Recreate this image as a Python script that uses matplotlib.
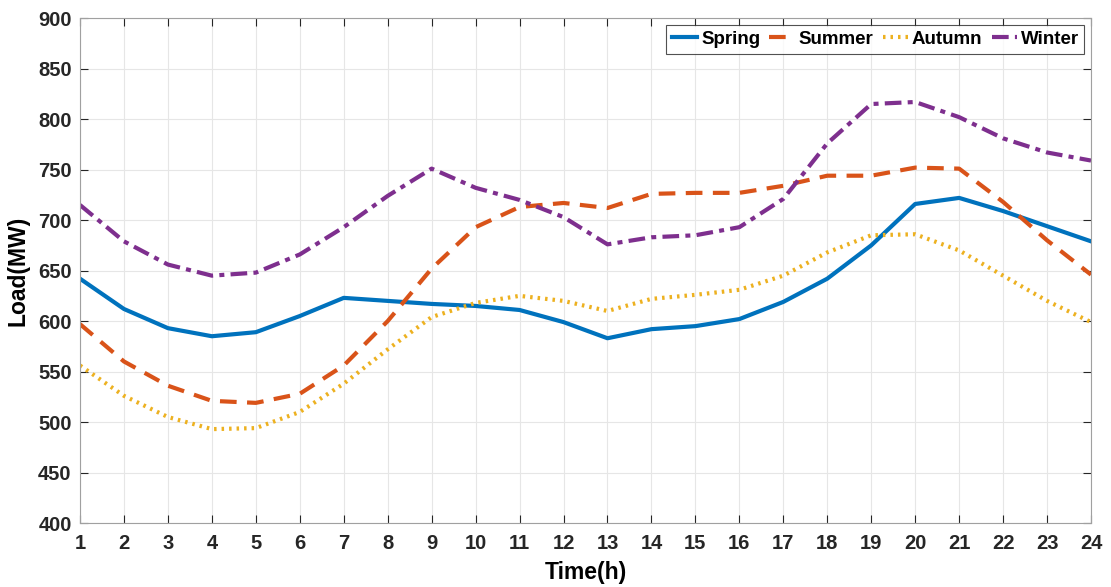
import numpy as np
import matplotlib.pyplot as plt

plt.rcParams['font.family'] = ['Liberation Sans', 'DejaVu Sans']
plt.rcParams['font.weight'] = 'bold'

hours = list(range(1, 25))
spring = [642, 612, 593, 585, 589, 605, 623, 620, 617, 615, 611, 599,
          583, 592, 595, 602, 619, 642, 675, 716, 722, 709, 694, 679]
summer = [597, 560, 536, 521, 519, 528, 556, 600, 652, 693, 713, 717,
          712, 726, 727, 727, 734, 744, 744, 752, 751, 718, 680, 646]
autumn = [556, 526, 505, 493, 494, 510, 538, 572, 604, 618, 625, 620,
          610, 622, 626, 631, 645, 668, 685, 686, 670, 645, 620, 599]
winter = [715, 679, 656, 645, 648, 666, 693, 724, 751, 732, 720, 703,
          676, 683, 685, 693, 721, 776, 815, 817, 802, 781, 767, 759]
y_ticks = list(range(400, 901, 50))

fig = plt.figure(figsize=(11.11, 5.87), dpi=100)
ax = fig.add_axes([0.072, 0.109, 0.910, 0.860])

lw = 3
ax.plot(hours, spring, color="#0072BD", lw=lw, ls="-", label="Spring")
ax.plot(hours, summer, color="#D95319", lw=lw, ls=(0, (4, 2.5)), label="Summer")
ax.plot(hours, autumn, color="#EDB120", lw=lw, ls=(0, (0.6, 1.2)), label="Autumn")
ax.plot(hours, winter, color="#7E2F8E", lw=lw, ls=(0, (4, 1.5, 1.2, 1.5)), label="Winter")

ax.set_xlim(1, 24)
ax.set_ylim(400, 900)
ax.set_xticks(hours)
ax.set_yticks(y_ticks)
ax.grid(True, color="#e6e6e6", lw=0.8)
ax.set_axisbelow(True)
ax.tick_params(direction="in", length=6, labelsize=14.5, colors="#262626",
               top=True, right=True, width=0.8)
ax.tick_params(axis="x", pad=8)
ax.tick_params(axis="y", pad=6)
for s in ax.spines.values():
    s.set_color("#a0a0a0")
    s.set_linewidth(0.8)
for lab in ax.get_xticklabels() + ax.get_yticklabels():
    lab.set_fontweight("bold")

ax.set_xlabel("Time(h)", fontsize=16.5, fontweight="bold", labelpad=6)
ax.set_ylabel("Load(MW)", fontsize=16.5, fontweight="bold", labelpad=6)

leg = ax.legend(loc="upper right", ncol=4, fontsize=13.5, frameon=True,
                fancybox=False, edgecolor="#262626", handlelength=1.35,
                handletextpad=0.2, columnspacing=0.5, borderpad=0.3,
                borderaxespad=0.0, bbox_to_anchor=(0.9935, 0.986))
leg.get_frame().set_linewidth(0.8)
for t in leg.get_texts():
    t.set_fontweight("bold")

fig.savefig("out.png", dpi=100)
